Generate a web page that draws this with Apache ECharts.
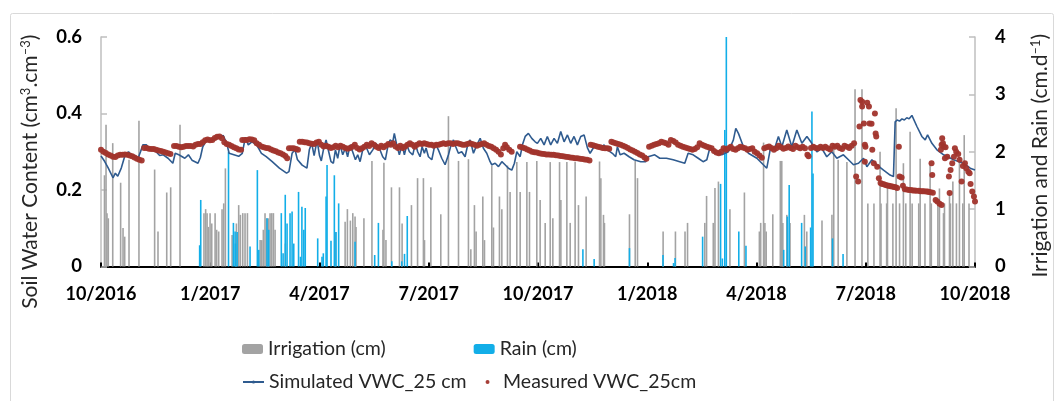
<!DOCTYPE html>
<html>
<head>
<meta charset="utf-8">
<script src="https://cdn.jsdelivr.net/npm/echarts@6/dist/echarts.min.js"></script>
<style>
  html, body { margin: 0; padding: 0; background: #ffffff; }
  #chart { width: 1059px; height: 401px; }
</style>
</head>
<body>
<div id="chart"></div>
<script>
// Day offsets are counted from 1 Oct 2016; the axis spans two years (730 days).
const tickLabels = ['10/2016', '1/2017', '4/2017', '7/2017', '10/2017', '1/2018', '4/2018', '7/2018', '10/2018'];
const quarterDays = 91.25;

// Irrigation events [day, cm]
const irrigation = [
  [2.9,1.59],[4.2,2.47],[5,0.93],[6.1,0.84],[9.8,2.15],[16.4,1.46],[18.4,0.67],[19.8,0.52],[23.4,1.86],[31.7,2.54],
  [44.8,1.69],[47.6,0.61],[54.9,1.29],[58.2,1.38],[66,2.47],
  [86,0.93],[87.4,1.0],[88.6,0.93],[89.7,0.69],[91.1,0.93],[92.5,0.75],[95.3,0.93],[96.6,0.64],[98.3,0.61],[101.1,1.0],
  [102.5,1.1],[103.9,1.71],[109.5,0.55],[113.1,0.75],[115,1.07],[116.4,0.9],[118.4,0.93],[120.3,0.93],[122.3,0.93],
  [132.9,0.46],[134.3,0.46],[135.6,0.64],[137,0.93],[138.4,0.84],[139.8,0.84],[141.2,0.93],[142.6,0.93],[144,0.93],[145.4,0.64],[154,0.4],
  [195.8,0.6],[203.9,0.78],[205.8,1.0],[208.3,0.8],[210.3,0.93],[212.2,0.87],[213,0.69],[219.6,0.84],[226.3,1.84],[235.5,0.64],
  [236.3,1.81],[238,0.46],[242.6,1.38],[249.3,1.38],[251.5,0.75],[259.3,1.07],[264.4,1.54],[269.3,1.54],[270.2,0.46],[275.5,1.38],
  [283.8,0.91],[290.2,2.62],[298.6,1.84],[306.9,1.87],[308.9,0.3],[311.9,1.07],[313.3,0.61],[318.9,1.22],[320.3,0.46],[326.4,1.76],
  [327.8,0.68],[332.8,1.22],[334.8,1.0],[339.5,1.76],[341.7,1.3],[347.3,1.82],[350.1,1.3],[355.7,1.82],[357.9,1.3],[364,1.84],
  [366.8,1.16],[371,0.76],[375.2,1.82],[377.4,0.84],[383,1.82],[384.1,1.16],[389.1,1.82],[391.9,0.76],[396,1.82],[398.8,1.07],
  [405.2,1.22],[416.4,1.83],[417.5,1.54],[419.7,0.9],[420.5,0.76],[441.4,0.91],[446.2,1.84],[448.1,1.54],
  [469.5,0.61],[479.8,0.61],[487.8,0.61],[489.9,0.76],[504.3,0.76],[505.8,1.23],[511.4,0.76],[512.8,1.37],[515.7,1.48],[525.3,1.0],[537.4,1.29],
  [549.9,0.61],[551,0.76],[553.4,2.16],[554.5,0.76],[555.6,0.61],[561.1,0.91],[567.4,1.84],[568.6,1.84],[569.5,0.76],[572.8,0.9],
  [575.5,0.76],[587.5,0.9],[589.5,0.61],[602.2,0.8],[610.5,0.9],[612,2.15],[615.7,1.86],[623,1.82],[629.8,3.09],[635.6,3.09],
  [640.5,1.1],[645.6,1.1],[650.7,2.0],[651.5,1.1],[656.2,1.1],[656.9,1.39],[661.4,1.1],[664.1,2.76],[667,1.1],[670.2,1.8],
  [672.2,1.1],[675.8,2.35],[677.5,1.1],[683,1.1],[684.2,1.88],[688.2,1.1],[692.5,1.77],[693.5,1.1],[699,1.1],[700.3,1.36],
  [703.7,0.93],[704.5,1.1],[708.7,1.28],[709.5,1.1],[711.5,1.48],[714.5,1.1],[717,1.91],[719.8,1.1],[721,2.29],[725,1.1]
];

// Rain events [day, cm]
const rain = [
  [82.4,0.37],[83.3,1.16],[106.5,2.0],[110.6,0.76],[112,0.61],[112.3,0.4],[113.7,0.6],[124.5,0.35],[130.6,1.68],[131.8,0.29],
  [138.7,0.84],[140.1,0.64],[150.6,0.93],[152.1,0.23],[153.9,1.25],[155.4,0.75],[157.9,0.93],[159.6,0.96],[161,0.4],[165,1.3],
  [166.6,0.17],[167.8,1.04],[169.4,0.64],[170.6,1.02],[181,0.49],[184.6,0.17],[185.7,0.23],[188,1.22],[188.8,1.77],[192.1,0.45],
  [194.9,1.59],[196.3,0.6],[198.5,1.1],[212.2,0.43],[228.6,0.2],[231.7,0.76],[242.9,0.09],[251.2,0.09],[253.5,0.22],[255.8,0.88],
  [402.5,0.3],[411.9,0.13],[441.4,0.32],[469.4,0.2],[478.2,0.06],[479.5,0.15],[502.5,0.52],[517.5,1.44],[519,0.14],[521,2.38],
  [522.3,4.0],[532.7,0.61],[538.7,0.36],[570.2,0.29],[573.3,0.87],[574.8,1.42],[585.2,0.76],[588.2,0.35],[592.7,0.68],[593.8,2.7],
  [594.7,1.62],[611,0.49],[619.8,0.22]
];

// Simulated volumetric water content at 25 cm [day, cm3/cm3]
const simulated = [
  [0,0.289],[3,0.275],[6,0.258],[10,0.232],[12,0.244],[14,0.236],[17,0.258],[20,0.29],[23,0.3],[25,0.292],[28,0.29],[31,0.283],
  [33,0.3],[35,0.318],[38,0.318],[40,0.309],[42,0.305],[46,0.3],[49,0.29],[52,0.292],[56,0.283],[60,0.27],[62,0.296],[65,0.292],
  [70,0.283],[73,0.292],[76,0.278],[81,0.27],[83,0.285],[85,0.313],[88,0.33],
  [92,0.33],[96,0.333],[100,0.338],[102,0.343],[105,0.322],[107,0.296],[111,0.292],[115,0.288],[118,0.296],[120.6,0.338],
  [123,0.318],[126,0.326],[130,0.318],[134,0.296],[138,0.287],[143,0.274],[149,0.257],[155,0.244],[157,0.248],[159.6,0.296],
  [162,0.306],[164,0.28],[168,0.265],[172,0.257],[174,0.305],[176,0.322],[178,0.29],[180.5,0.33],[182.5,0.29],[184,0.276],
  [186,0.309],[188,0.331],[190.2,0.3],[192.1,0.274],[194.1,0.27],[195.8,0.305],[197.7,0.283],[199.7,0.318],[201.9,0.292],
  [204.1,0.309],[206,0.287],[208,0.318],[210.2,0.3],[212.5,0.279],[214.4,0.292],[216.4,0.274],[218.6,0.305],[221.4,0.313],
  [224.2,0.292],[227,0.305],[229.7,0.322],[232.5,0.309],[235.3,0.287],[237.5,0.279],[239.5,0.313],[241.4,0.331],[243.7,0.326],
  [245,0.348],[247,0.318],[249.2,0.292],[251.5,0.318],[253.4,0.292],[255.4,0.318],[257.6,0.3],[260.4,0.292],[262.6,0.322],
  [264.5,0.3],[266.5,0.287],[268.2,0.313],[270.1,0.296],[271.5,0.31],[273.5,0.287],[276.3,0.279],[279.1,0.322],[281.8,0.305],
  [284.6,0.283],[287.4,0.266],[290.2,0.292],[292.4,0.318],[294.4,0.331],[296.3,0.313],[298.5,0.296],[301.3,0.3],[304.1,0.287],
  [306.3,0.318],[308.3,0.331],[311.1,0.296],[313.9,0.318],[316.7,0.335],[319.4,0.309],[322.2,0.296],[325,0.274],[326.4,0.266],
  [329.2,0.27],[332,0.261],[334.8,0.274],[337.5,0.266],[340.3,0.257],[343.1,0.252],[345.3,0.27],[347.3,0.3],[350.1,0.287],
  [352,0.318],[354.3,0.34],[357,0.348],[359.8,0.335],[362.6,0.326],[364.5,0.322],[367.3,0.335],[370.1,0.318],[372.8,0.34],
  [375.6,0.318],[378.4,0.335],[381.2,0.322],[384,0.353],[386.8,0.326],[389.6,0.344],[392.3,0.322],[395.1,0.34],[397.9,0.318],
  [400.7,0.34],[403.5,0.344],[406.3,0.31],[408.5,0.296],[411.8,0.313],[414.6,0.318],[417.4,0.309],[420.2,0.318],[423,0.305],
  [427.1,0.296],[429.9,0.287],[431.3,0.313],[433.6,0.292],[436.9,0.296],[441.1,0.287],[445.2,0.279],[450.8,0.274],[455,0.274],
  [457,0.287],[458.4,0.287],[462.5,0.292],[466.7,0.283],[472.3,0.283],[477.9,0.279],[483.4,0.274],[487.6,0.27],[490.4,0.296],
  [494.6,0.292],[498.8,0.283],[502.9,0.274],[506,0.279],[508.8,0.313],[513,0.296],[518.5,0.292],[524,0.3],[528.2,0.331],
  [530.2,0.361],[532.4,0.348],[536.6,0.313],[540.8,0.296],[547.8,0.283],[556.1,0.257],[558.9,0.305],[563.1,0.313],[565.8,0.34],
  [568.7,0.313],[572.8,0.357],[577,0.313],[581.2,0.357],[585.4,0.322],[589.6,0.34],[593.7,0.322],[597.9,0.3],[602,0.309],
  [606.2,0.287],[610.4,0.3],[614.6,0.283],[620.1,0.292],[624.3,0.279],[628.5,0.266],[632.7,0.27],[636.9,0.283],[639.7,0.261],
  [643.9,0.279],[648,0.266],[653.6,0.252],[659.1,0.239],[661.9,0.235],[663.3,0.378],[665,0.383],[667,0.38],[669,0.386],
  [671,0.383],[673,0.389],[675,0.386],[677.3,0.395],[681.5,0.366],[685.6,0.34],[688.4,0.331],[690.4,0.344],[694,0.322],
  [698.2,0.305],[703.8,0.292],[712.1,0.279],[720.4,0.27],[726,0.257],[730,0.252]
];

// Measured volumetric water content at 25 cm [day, cm3/cm3]
const measured = [
  [0,0.305],[2,0.3],[4,0.297],[6,0.293],[8,0.29],[10,0.287],[12,0.286],[14,0.29],[16,0.292],[18,0.292],[20,0.293],[22,0.292],
  [24,0.29],[26,0.288],[28,0.285],[30,0.282],[32,0.279],[34,0.277],[36,0.31],[38,0.31],[40,0.308],[42,0.307],[44,0.307],
  [46,0.305],[48,0.303],[50,0.302],[52,0.3],[54,0.298],[56,0.296],[58,0.294],[61,0.315],[63,0.315],[65,0.313],[67,0.312],
  [69,0.313],[71,0.315],[73,0.315],[75,0.315],[77,0.314],[79,0.318],[81,0.32],[83,0.32],[85,0.325],[87,0.33],[89,0.332],
  [91,0.33],[93,0.331],[95,0.336],[97,0.339],[99,0.34],[101,0.335],[103,0.325],[105,0.32],[107,0.318],[109,0.315],[111,0.312],
  [113,0.309],[115,0.306],[117,0.305],[118,0.331],[120,0.331],[122,0.331],[124,0.333],[126,0.332],[128,0.33],[130,0.322],
  [132,0.318],[134,0.314],[136,0.312],[138,0.31],[140,0.309],[142,0.306],[144,0.303],[146,0.301],[148,0.298],[150,0.296],
  [152,0.293],[154,0.289],[155.5,0.283],[157,0.309],[159,0.309],[161,0.309],[163,0.307],[164.5,0.305],[166,0.326],[168,0.326],
  [170,0.325],[172,0.324],[174,0.322],[176,0.321],[178,0.32],[180,0.324],[182,0.326],[184,0.318],[186,0.314],[188,0.316],
  [190,0.313],[192,0.31],[194,0.312],[196,0.316],[198,0.312],[200,0.316],[202,0.313],[204,0.31],[206,0.308],[208,0.31],
  [210,0.313],[212,0.318],[214,0.31],[216,0.306],[218,0.309],[220,0.313],[222,0.318],[224,0.315],[226,0.322],[228,0.318],
  [230,0.313],[232,0.31],[234,0.316],[236,0.312],[238,0.316],[240,0.32],[242,0.318],[244,0.322],[246,0.314],[248,0.31],
  [250,0.316],[252,0.31],[254,0.314],[256,0.318],[258,0.322],[260,0.318],[262,0.313],[264,0.318],[266,0.322],[268,0.32],
  [270,0.322],[272,0.32],[274,0.318],[276,0.318],[278,0.316],[280,0.318],[282,0.318],[284,0.32],[286,0.322],[288,0.32],
  [290,0.322],[292,0.322],[294,0.32],[296,0.322],[298,0.322],[300,0.32],[302,0.318],[304,0.318],[306,0.32],[308,0.322],
  [310,0.32],[312,0.318],[314,0.316],[316,0.318],[318,0.32],[320,0.322],[322,0.318],[324,0.315],[326,0.313],[328,0.309],
  [330,0.305],[332,0.3],[334,0.293],[336,0.309],[337.5,0.318],[339,0.312],[341,0.305],[343,0.3],[350,0.313],[352,0.311],
  [354,0.309],[356,0.306],[358,0.303],[360,0.3],[362,0.299],[364,0.298],[366,0.296],[368,0.295],[370,0.294],[372,0.293],
  [374,0.293],[376,0.292],[378,0.292],[380,0.291],[382,0.29],[384,0.289],[386,0.288],[388,0.287],[390,0.286],[392,0.285],
  [394,0.284],[396,0.283],[398,0.283],[400,0.282],[402,0.281],[404,0.28],[406,0.279],[408,0.277],
  [409,0.318],[411,0.317],[413,0.315],[415,0.313],[417,0.312],[419,0.31],[421,0.309],[423,0.309],[424.5,0.308],
  [426.3,0.326],[428,0.324],[430,0.322],[432,0.32],[434,0.318],[436,0.316],[438,0.313],[440,0.31],[442,0.306],[444,0.303],
  [446,0.3],[448,0.297],[450,0.293],[452,0.29],[454,0.285],[455.5,0.282],
  [457.8,0.313],[460,0.316],[462,0.318],[464,0.32],[466,0.322],[468,0.326],[470,0.324],[472,0.322],[474,0.318],[476,0.331],
  [478,0.328],[480,0.324],[482,0.318],[484,0.316],[486,0.313],[488,0.311],[490,0.309],[492,0.307],[494,0.305],[496,0.307],
  [498,0.312],[500,0.322],[502,0.318],[504,0.316],[506,0.313],[508,0.311],[510,0.309],[512,0.302],[514,0.298],[516,0.296],
  [518,0.3],[520,0.309],[522,0.305],[524,0.309],[526,0.313],[528,0.307],[530,0.305],[532,0.309],[534,0.313],[536,0.311],
  [538,0.309],[540,0.305],[542,0.307],[544,0.309],[546,0.3],[548,0.296],[550,0.29],[552,0.284],
  [554,0.309],[556,0.312],[558,0.314],[560,0.31],[562,0.305],[564,0.309],[566,0.316],[568,0.312],[570,0.308],[572,0.31],
  [574,0.314],[576,0.31],[578,0.307],[580,0.316],[582,0.312],[584,0.309],[586,0.313],[588,0.309],[590,0.292],[591,0.288],
  [593,0.31],[595,0.313],[597,0.31],[599,0.309],[601,0.313],[603,0.31],[605,0.313],[607,0.309],[609,0.306],[611,0.316],
  [613,0.313],[615,0.316],[617,0.31],[619,0.307],[621,0.316],[623,0.313],[625,0.31],[627,0.316],[629,0.322],
  [630.7,0.235],[632.4,0.222],[633.5,0.366],[634.3,0.435],[635.7,0.418],[635.8,0.431],[637.2,0.374],[638,0.318],[638,0.274],
  [638.5,0.313],[640,0.428],[641.4,0.418],[641.9,0.374],[643.6,0.373],[644.2,0.305],[645.5,0.27],[646.4,0.4],[647,0.348],
  [647.5,0.34],[648.3,0.261],[649.7,0.231],[651.1,0.218],[652.5,0.216],[653.9,0.215],[655.3,0.213],[656.7,0.212],[658.1,0.211],
  [659.5,0.21],[660.9,0.209],[662.3,0.208],[663.7,0.207],[665,0.205],[666.4,0.313],[667,0.235],[668.7,0.233],[669.8,0.211],
  [671.4,0.202],[673,0.201],[674.8,0.2],[676.5,0.2],[678,0.199],[679.5,0.199],[681,0.198],[683.1,0.198],[684.5,0.197],
  [686,0.197],[687.3,0.197],[689,0.196],[690.5,0.196],[691.5,0.195],[693,0.194],[693.7,0.27],[694.3,0.239],[694.8,0.193],
  [697.1,0.174],[698.5,0.17],[700.4,0.164],[702.1,0.161],[701.5,0.305],[702.1,0.318],[702.6,0.335],[703.2,0.322],[704,0.313],
  [705.4,0.312],[704.9,0.283],[706.8,0.287],[708.2,0.235],[708.8,0.192],[709.6,0.252],[711,0.27],[712.4,0.287],[713.2,0.309],
  [714.3,0.3],[716,0.294],[717.1,0.279],[718.8,0.222],[719.9,0.263],[721.6,0.27],[722.7,0.257],[724.4,0.248],[725.5,0.244],
  [726.3,0.216],[727.7,0.196],[729.1,0.183],[730,0.17]
];

const FONT = 'Lato';
const TEXT_COLOR = '#262626';
const chart = echarts.init(document.getElementById('chart'), null, { renderer: 'canvas' });

// Rich-text styles for the axis titles with superscripts;
// the right-side padding pushes each rotated title a little lower.
function titleStyle(shift) {
  return {
    padding: [0, shift, 0, 0],
    rich: {
      t: { fontFamily: FONT, fontSize: 21, color: TEXT_COLOR },
      s: { fontFamily: FONT, fontSize: 13, color: TEXT_COLOR, verticalAlign: 'top', padding: [0, 0, 9, 0] }
    }
  };
}

chart.setOption({
  animation: false,
  backgroundColor: '#ffffff',
  textStyle: { fontFamily: FONT },
  grid: { left: 101, right: 84, top: 37, bottom: 134.5, containLabel: false },
  graphic: [{
    type: 'rect', left: 8, top: 11, z: -10,
    shape: { width: 1043, height: 400, r: 2 },
    style: { fill: 'none', stroke: '#d9d9d9', lineWidth: 1 }
  }],
  legend: [
    {
      left: 237, top: 334, itemWidth: 21, itemHeight: 10, itemGap: 88,
      textStyle: { fontFamily: FONT, fontSize: 19.5, color: TEXT_COLOR },
      data: ['Irrigation (cm)', 'Rain (cm)']
    },
    {
      left: 237, top: 367, itemWidth: 21, itemHeight: 4, itemGap: 19,
      textStyle: { fontFamily: FONT, fontSize: 19.5, color: TEXT_COLOR },
      data: ['Simulated VWC_25 cm', { name: 'Measured VWC_25cm', icon: 'circle' }]
    }
  ],
  xAxis: {
    type: 'value', min: 0, max: 730, interval: quarterDays,
    axisLine: { lineStyle: { color: '#000000', width: 2 } },
    axisTick: { inside: true, length: 4, lineStyle: { color: '#000000', width: 2 } },
    splitLine: { show: false },
    axisLabel: {
      margin: 19, fontFamily: FONT, fontSize: 18, fontWeight: 'bold', color: '#000000',
      formatter: v => tickLabels[Math.round(v / quarterDays)] || ''
    }
  },
  yAxis: [
    {
      type: 'value', min: 0, max: 0.6, interval: 0.2,
      name: '{t|Soil Water Content (cm}{s|3}{t|.cm}{s|\u20133}{t|)}',
      nameLocation: 'middle', nameGap: 60, nameRotate: 90,
      nameTextStyle: titleStyle(40),
      axisLine: { show: true, lineStyle: { color: '#bfbfbf', width: 1.5 } },
      axisTick: { show: true, inside: true, length: 6, lineStyle: { color: '#bfbfbf', width: 1.5 } },
      splitLine: { show: false },
      axisLabel: {
        margin: 19, fontFamily: FONT, fontSize: 18.5, fontWeight: 'bold', color: '#000000',
        formatter: v => (v === 0 ? '0' : v.toFixed(1))
      }
    },
    {
      type: 'value', min: 0, max: 4, interval: 1, position: 'right',
      name: '{t|Irrigation and Rain (cm.d}{s|\u20131}{t|)}',
      nameLocation: 'middle', nameGap: 54, nameRotate: 90,
      nameTextStyle: titleStyle(8),
      axisLine: { show: true, lineStyle: { color: '#bfbfbf', width: 1.5 } },
      axisTick: { show: true, inside: true, length: 6, lineStyle: { color: '#bfbfbf', width: 1.5 } },
      splitLine: { show: false },
      axisLabel: { margin: 20, fontFamily: FONT, fontSize: 18.5, fontWeight: 'bold', color: '#000000' }
    }
  ],
  series: [
    {
      name: 'Irrigation (cm)', type: 'bar', yAxisIndex: 1, data: irrigation,
      barWidth: 1.6, barGap: '-100%', itemStyle: { color: '#a3a3a3' }, z: 1
    },
    {
      name: 'Rain (cm)', type: 'bar', yAxisIndex: 1, data: rain,
      barWidth: 1.6, barGap: '-100%', itemStyle: { color: '#12aee8' }, z: 2
    },
    {
      name: 'Simulated VWC_25 cm', type: 'line', yAxisIndex: 0, data: simulated,
      symbol: 'none', lineStyle: { color: '#2f5b8f', width: 1.6 }, itemStyle: { color: '#2f5b8f' }, z: 3
    },
    {
      name: 'Measured VWC_25cm', type: 'scatter', yAxisIndex: 0, data: measured,
      symbolSize: 6, itemStyle: { color: '#a1342c', opacity: 0.95 }, z: 4
    }
  ]
});
</script>
</body>
</html>
